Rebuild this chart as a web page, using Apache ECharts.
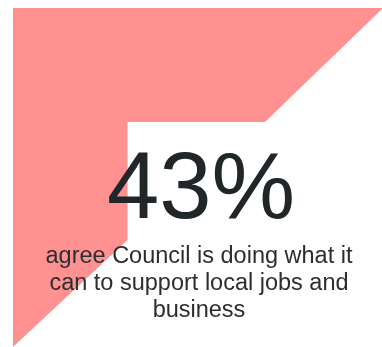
<!DOCTYPE html>
<html>
<head>
<meta charset="utf-8">
<script src="https://cdn.jsdelivr.net/npm/echarts@6/dist/echarts.min.js"></script>
<style>
  html, body { margin: 0; padding: 0; background: #ffffff; }
  #chart { width: 382px; height: 347px; }
</style>
</head>
<body>
<div id="chart"></div>
<script>
// Headline figure and its caption
var shareAgree = [43];
var captionLines = ['agree Council is doing what it', 'can to support local jobs and', 'business'];

// Outline of the decorative backdrop shape, in plot units (x right, y down)
var backdropX = [13, 383, 265, 127.5, 127.5, 13];
var backdropY = [8, 8, 122, 122, 240, 347];

var chart = echarts.init(document.getElementById('chart'), null, { renderer: 'canvas' });

var backdropData = backdropX.map(function (x, i) { return [x, backdropY[i]]; });

var option = {
  animation: false,
  backgroundColor: '#ffffff',
  grid: { left: 0, right: 0, top: 0, bottom: 0 },
  xAxis: { type: 'value', min: 0, max: 382, show: false },
  yAxis: { type: 'value', min: 0, max: 347, inverse: true, show: false },
  series: [{
    type: 'custom',
    coordinateSystem: 'cartesian2d',
    data: [0],
    clip: true,
    renderItem: function (params, api) {
      var pts = backdropData.map(function (p) { return api.coord(p); });
      return {
        type: 'polygon',
        shape: { points: pts },
        style: { fill: '#ff9191' }
      };
    }
  }],
  graphic: [
    {
      type: 'text',
      x: 201,
      y: 192,
      style: {
        text: shareAgree[0] + '%',
        fontFamily: '"Liberation Sans", Arial, sans-serif',
        fontSize: 94,
        fill: '#212629',
        align: 'center',
        verticalAlign: 'middle'
      },
      z: 10
    },
    {
      type: 'text',
      x: 199,
      y: 284,
      style: {
        text: captionLines.join('\n'),
        fontFamily: '"Liberation Sans", Arial, sans-serif',
        fontSize: 23.5,
        lineHeight: 27,
        fill: '#2a2e31',
        align: 'center',
        verticalAlign: 'middle'
      },
      z: 10
    }
  ]
};

chart.setOption(option);
</script>
</body>
</html>
